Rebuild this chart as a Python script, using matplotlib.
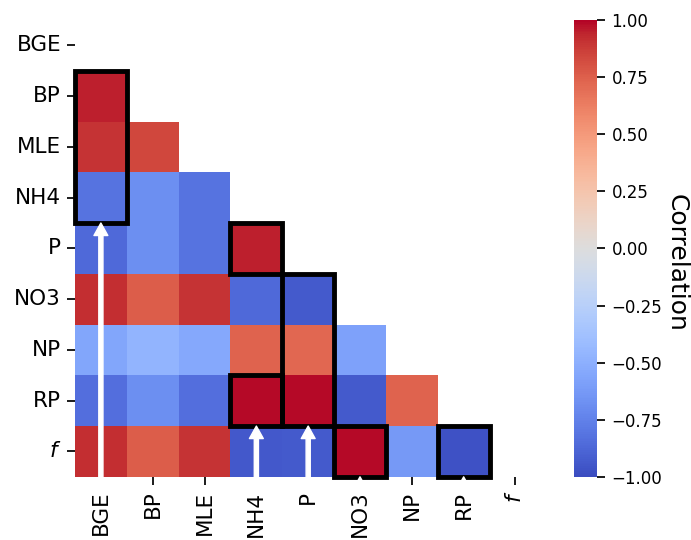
import numpy as np
import pandas as pd
import matplotlib
matplotlib.use("Agg")
import matplotlib.pyplot as plt
import seaborn as sns
from matplotlib.patches import Rectangle

# variable names (row/column order)
labels = ["BGE", "BP", "MLE", "NH4", "P", "NO3", "NP", "RP", r"$f$"]

# lower triangle of the correlation matrix, one list per row
r_bp = [0.95]
r_mle = [0.90, 0.84]
r_nh4 = [-0.82, -0.68, -0.82]
r_p = [-0.86, -0.68, -0.82, 0.95]
r_no3 = [0.92, 0.76, 0.90, -0.86, -0.93]
r_np = [-0.56, -0.47, -0.54, 0.74, 0.72, -0.58]
r_rp = [-0.84, -0.68, -0.84, 0.99, 0.99, -0.93, 0.74]
r_f = [0.92, 0.76, 0.90, -0.94, -0.93, 0.99, -0.63, -0.97]
lower_rows = [r_bp, r_mle, r_nh4, r_p, r_no3, r_np, r_rp, r_f]

# highlighted blocks: (column, first row, last row)
highlights = [("BGE", "BP", "NH4"), ("NH4", "P", "P"), ("P", "NO3", "RP"),
              ("NH4", "RP", "RP"), ("NO3", r"$f$", r"$f$"), ("RP", r"$f$", r"$f$")]

# arrows from below the axis up to the bottom of a box: (column, row)
arrow_targets = [("BGE", "NH4"), ("NH4", "RP"), ("P", "RP"), ("NO3", r"$f$"), ("RP", r"$f$")]

# build full symmetric matrix
n = len(labels)
corr = np.eye(n)
for i, row in enumerate(lower_rows, start=1):
    for j, v in enumerate(row):
        corr[i, j] = v
        corr[j, i] = v
df = pd.DataFrame(corr, index=labels, columns=labels)
mask = np.triu(np.ones_like(corr, dtype=bool))

fig = plt.figure(figsize=(6.91, 5.4), dpi=100)
ax = fig.add_axes([0.1085, 0.117, 0.675, 0.846])
cax = fig.add_axes([0.831, 0.117, 0.033, 0.846])

sns.heatmap(df, mask=mask, cmap="coolwarm", vmin=-1, vmax=1, ax=ax, cbar_ax=cax)
ax.tick_params(axis="both", labelsize=15.5, length=6, width=1.25, pad=4)
ax.set_xticklabels(labels, rotation=90)
ax.set_yticklabels(labels, rotation=0)

cbar = ax.collections[0].colorbar
cbar.set_ticks(np.arange(-1, 1.01, 0.25))
cbar.ax.tick_params(labelsize=12, length=6, width=1.25, pad=4.5)
cbar.set_label("Correlation", rotation=270, fontsize=18, va="bottom")
cbar.ax.yaxis.set_label_coords(3.95, 0.468)

# boxes and arrows
for col, r0, r1 in highlights:
    c = labels.index(col)
    i0, i1 = labels.index(r0), labels.index(r1)
    ax.add_patch(Rectangle((c, i0), 1, i1 - i0 + 1, fill=False, edgecolor="black",
                           lw=3.5, clip_on=False, zorder=5))

for col, row in arrow_targets:
    c = labels.index(col) + 0.5
    y_end = labels.index(row) + 1
    ax.annotate("", xy=(c, y_end), xytext=(c, n + 0.22),
                arrowprops=dict(facecolor="white", edgecolor="white", width=3,
                                headwidth=10, headlength=9, shrink=0),
                annotation_clip=False, zorder=6)

fig.savefig("out.png", dpi=100)
